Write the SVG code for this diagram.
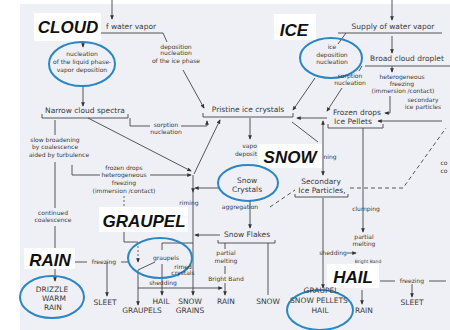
<svg xmlns="http://www.w3.org/2000/svg" width="450" height="330" viewBox="0 0 450 330">
<defs>
<marker id="ah" viewBox="0 0 6 6" refX="5" refY="3" markerWidth="5" markerHeight="5" orient="auto"><path d="M0,0.5 L6,3 L0,5.5 z" fill="#333"/></marker>
<style>
.t{font-family:"DejaVu Sans","Liberation Sans",sans-serif;fill:#3a3a3a;text-anchor:middle}
.s{font-size:6px}
.m{font-size:7.5px}
.big{font-family:"Liberation Sans",Arial,sans-serif;font-weight:bold;font-style:italic;font-size:17px;fill:#111;text-anchor:middle}
.ln{stroke:#444;stroke-width:0.9;fill:none}
.ar{stroke:#444;stroke-width:0.9;fill:none;marker-end:url(#ah)}
.da{stroke:#555;stroke-width:1;fill:none;stroke-dasharray:4 3}
.dt{stroke:#555;stroke-width:0.9;fill:none;stroke-dasharray:2 2}
.el{fill:none;stroke:#2a86c4;stroke-width:2}
.box{fill:#fff}
</style>
</defs>
<rect width="450" height="330" fill="#fff"/>
<rect x="20" y="4" width="430" height="326" fill="#eef0f6"/>

<g id="connectors">
<path class="ar" d="M112,0 V19"/>
<path class="ln" d="M101,33 H163 L167,42"/>
<path class="ar" d="M83,40 V47"/>
<path class="ar" d="M83,86 V106"/>
<path class="ar" d="M183,70 L204,108"/>
<path class="ln" d="M42,114 V118 H128 V114"/>
<path class="ln" d="M130,118 V126 H150"/>
<path class="ar" d="M181,126 H207 V121"/>
<path class="ln" d="M203,113 V117 H293 V113"/>
<path class="ar" d="M88,118 L191,171"/>
<path class="ar" d="M194,174 L220,120"/>
<path class="ln" d="M72,165 V175 H100"/>
<path class="ar" d="M150,175 H191"/>
<path class="ar" d="M193,175 V192"/>
<path class="ar" d="M220,188 H195"/>
<path class="ln" d="M193,192 V289"/>
<path class="ln" d="M55,120 V135"/>
<path class="ln" d="M55,162 V208"/>
<path class="ln" d="M55,226 V248"/>
<path class="ar" d="M55,268 V281"/>
<path class="ln" d="M75,262 H87"/>
<path class="ln" d="M121,262 H128"/>
<path class="ar" d="M107,262 V296"/>
<path class="dt" d="M124,196 V207"/>
<path class="ln" d="M124,232 V242 H138"/>
<path class="dt" d="M138,242 V258"/>
<path class="ar" d="M138,258 V262"/>
<path class="ln" d="M138,270 L155,262"/>
<path class="ln" d="M193,243 H162 V250"/>
<path class="ln" d="M162,264 V288"/>
<path class="ar" d="M138,270 V305"/>
<path class="ar" d="M138,288 H222"/>
<path class="ar" d="M162,288 V295"/>
<path class="ar" d="M193,289 V295"/>
<path class="ar" d="M220,235 H195"/>
<path class="ar" d="M250,118 V139"/>
<path class="ar" d="M250,201 V228"/>
<path class="ln" d="M218,240 V243 H275 V240"/>
<path class="ln" d="M268,243 V295"/>
<path class="ln" d="M225,243 V249"/>
<path class="ln" d="M225,266 V274"/>
<path class="ar" d="M225,283 V295"/>
<path class="da" d="M270,207 L295,190"/>
<path class="da" d="M350,188 H403 L446,128"/>
<path class="ln" d="M295,194 V197 H348 V194"/>
<path class="ar" d="M392,0 V20"/>
<path class="ln" d="M338,33 H442"/>
<path class="ln" d="M346,33 L338,44"/>
<path class="ar" d="M315,78 L293,110"/>
<path class="ar" d="M392,36 V53"/>
<path class="ln" d="M365,66 H450"/>
<path class="ln" d="M362,66 L359,71"/>
<path class="ar" d="M342,88 L327,111"/>
<path class="ar" d="M392,66 V72"/>
<path class="ar" d="M390,96 V113 H385"/>
<path class="ar" d="M442,121 H378"/>
<path class="ln" d="M328,124 V128 H383 V124"/>
<path class="ar" d="M327,118 H297"/>
<path class="ln" d="M292,122 L318,142"/>
<path class="ar" d="M323,142 V121"/>
<path class="ar" d="M323,142 V175"/>
<path class="ar" d="M323,198 V288"/>
<path class="ar" d="M363,128 V232"/>
<path class="ar" d="M347,253 H356"/>
<path class="ar" d="M362,290 V304"/>
<path class="ln" d="M380,281 H395"/>
<path class="ln" d="M429,281 H446"/>
<path class="ar" d="M412,284 V297"/>
</g>

<g id="cloud-label"><rect class="box" x="34" y="13" width="67" height="28"/><text class="big" x="68" y="33">CLOUD</text></g>
<g id="water-vapor-left"><text class="t m" x="131" y="29">f water vapor</text></g>
<g id="nucleation-liquid"><ellipse class="el" cx="82" cy="64" rx="33" ry="22"/>
<text class="t s" x="82" y="56">nucleation</text><text class="t s" x="82" y="64">of the liquid phase-</text><text class="t s" x="82" y="72">vapor deposition</text></g>
<g id="deposition-ice"><text class="t s" x="176" y="49">deposition</text><text class="t s" x="176" y="55">nucleation</text><text class="t s" x="176" y="63">of the ice phase</text></g>
<g id="narrow"><text class="t m" x="85" y="113">Narrow cloud spectra</text></g>
<g id="sorption-left"><text class="t s" x="166" y="127">sorption</text><text class="t s" x="166" y="134">nucleation</text></g>
<g id="pristine"><text class="t m" x="248" y="112">Pristine ice crystals</text></g>
<g id="slow"><text class="t s" x="55" y="142">slow broadening</text><text class="t s" x="55" y="149">by coalescence</text><text class="t s" x="59" y="157">aided by turbulence</text></g>
<g id="frozen-left"><text class="t s" x="124" y="170">frozen drops</text><text class="t s" x="124" y="177">heterogeneous</text><text class="t s" x="124" y="185">freezing</text><text class="t s" x="124" y="193">(immersion /contact)</text></g>
<g id="riming"><text class="t s" x="189" y="205">riming</text></g>
<g id="continued"><text class="t s" x="53" y="215">continued</text><text class="t s" x="53" y="222">coalescence</text></g>
<g id="graupel-label"><rect class="box" x="99" y="207" width="89" height="25"/><text class="big" x="144" y="227">GRAUPEL</text></g>
<g id="graupels-ellipse"><ellipse class="el" cx="160" cy="258" rx="32" ry="20"/><text class="t s" x="166" y="260">graupels</text><text class="t s" x="183" y="269">rimed</text><text class="t s" x="183" y="275">crystals</text><text class="t s" x="163" y="285">shedding</text></g>
<g id="rain-label"><rect class="box" x="24" y="248" width="51" height="21"/><text class="big" x="50" y="266">RAIN</text></g>
<g id="freezing-left"><text class="t s" x="104" y="264">freezing</text></g>
<g id="drizzle"><ellipse class="el" cx="52" cy="297" rx="32" ry="21"/><text class="t m" x="52" y="292">DRIZZLE</text><text class="t m" x="54" y="301">WARM</text><text class="t m" x="53" y="310">RAIN</text></g>
<g id="sleet-left"><text class="t m" x="105" y="305">SLEET</text></g>
<g id="graupels-out"><text class="t m" x="142" y="313">GRAUPELS</text></g>
<g id="hail-out"><text class="t m" x="161" y="304">HAIL</text></g>
<g id="snowgrains"><text class="t m" x="190" y="304">SNOW</text><text class="t m" x="190" y="313">GRAINS</text></g>
<g id="rain-mid"><text class="t m" x="226" y="304">RAIN</text></g>
<g id="snow-flakes"><text class="t m" x="247" y="237">Snow Flakes</text></g>
<g id="partial-mid"><text class="t s" x="226" y="255">partial</text><text class="t s" x="226" y="263">melting</text><text class="t s" x="226" y="281">Bright Band</text></g>
<g id="snow-out"><text class="t m" x="268" y="304">SNOW</text></g>
<g id="vapor-dep"><text class="t s" x="257" y="148" style="text-anchor:end">vapo</text><text class="t s" x="257" y="156" style="text-anchor:end">deposit</text></g>
<g id="snow-label"><rect class="box" x="258" y="144" width="64" height="24"/><text class="big" x="290" y="163">SNOW</text><text class="t s" x="330" y="159">ning</text></g>
<g id="snow-crystals"><ellipse class="el" cx="248" cy="183" rx="30" ry="18"/><text class="t m" x="247" y="183">Snow</text><text class="t m" x="247" y="192">Crystals</text><text class="t s" x="240" y="209">aggregation</text></g>
<g id="secondary"><text class="t m" x="321" y="184">Secondary</text><text class="t m" x="322" y="193">Ice Particles,</text></g>
<g id="clumping"><text class="t s" x="366" y="211">clumping</text></g>
<g id="partial-right"><text class="t s" x="364" y="239">partial</text><text class="t s" x="364" y="246">melting</text><text class="t s" x="333" y="255">shedding</text><text class="t" style="font-size:4.5px" x="368" y="263">Bright Band</text></g>
<g id="hail-label"><rect class="box" x="327" y="264" width="52" height="24"/><text class="big" x="353" y="283">HAIL</text></g>
<g id="freezing-right"><text class="t s" x="412" y="283">freezing</text></g>
<g id="sleet-right"><text class="t m" x="412" y="305">SLEET</text></g>
<g id="pellets"><ellipse class="el" cx="320" cy="310" rx="33" ry="20"/><text class="t m" x="321" y="293">GRAUPEL</text><text class="t m" x="319" y="303">SNOW PELLETS</text><text class="t m" x="320" y="313">HAIL</text></g>
<g id="rain-right"><text class="t m" x="364" y="313">RAIN</text></g>
<g id="ice-label"><rect class="box" x="274" y="14" width="42" height="26"/><text class="big" x="294" y="36">ICE</text></g>
<g id="supply"><text class="t m" x="393" y="29">Supply of water vapor</text></g>
<g id="ice-dep"><ellipse class="el" cx="331" cy="58" rx="31" ry="20"/><text class="t s" x="332" y="49">ice</text><text class="t s" x="332" y="57">deposition</text><text class="t s" x="332" y="64">nucleation</text></g>
<g id="broad"><text class="t m" x="407" y="61">Broad cloud droplet</text></g>
<g id="sorption-right"><text class="t s" x="350" y="78">sorption</text><text class="t s" x="350" y="85">nucleation</text></g>
<g id="het-right"><text class="t s" x="402" y="79">heterogeneous</text><text class="t s" x="402" y="86">freezing</text><text class="t s" x="403" y="93">(immersion /contact)</text><text class="t s" x="423" y="102">secondary</text><text class="t s" x="423" y="109">ice particles</text></g>
<g id="frozen-right"><text class="t m" x="357" y="115">Frozen drops</text><text class="t m" x="353" y="124">Ice Pellets</text></g>
<g id="edge-co"><text class="t s" x="444" y="165">co</text><text class="t s" x="444" y="173">co</text></g>
</svg>
